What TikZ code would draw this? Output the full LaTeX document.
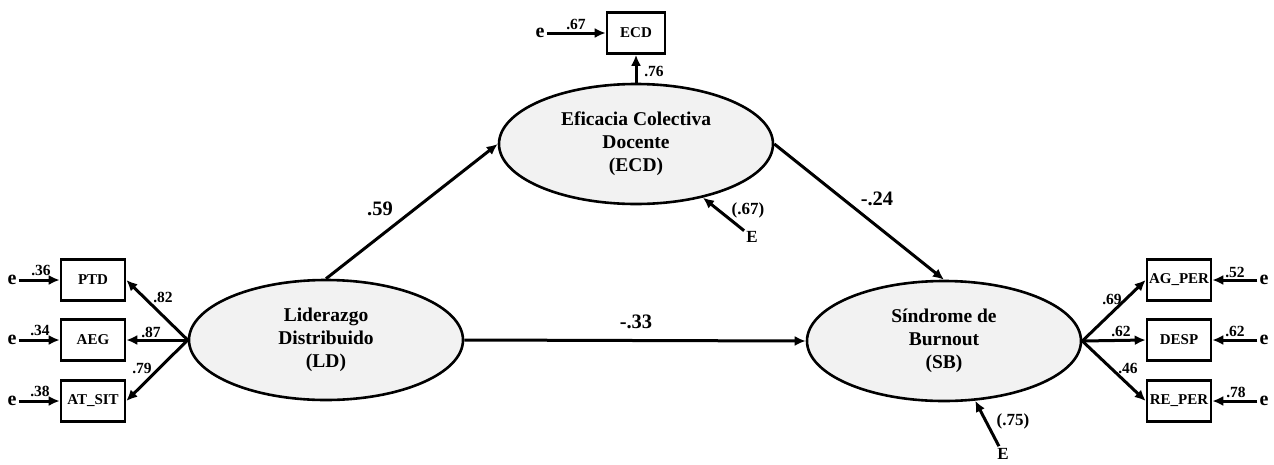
\documentclass[tikz,border=0pt]{standalone}
\usepackage{fontspec}
\setmainfont{Liberation Serif}
\usetikzlibrary{shapes.geometric,arrows.meta}
\newcommand{\fsz}[1]{\fontsize{#1}{#1}\selectfont\bfseries}
\begin{document}
\begin{tikzpicture}[x=1pt, y=-1pt,
    latent/.style={ellipse, draw, line width=2.6pt, fill=black!5, inner sep=0pt,
      minimum width=274pt, minimum height=120pt, align=center,
      font=\fontsize{19.5}{23}\selectfont\bfseries},
    obs/.style={rectangle, draw, line width=2.6pt, inner sep=0pt,
      minimum width=64pt, minimum height=41pt, font=\fsz{15}},
    arr/.style={line width=3pt, -{Latex[length=11pt,width=10pt]}},
    coef/.style={font=\fsz{15.5}},
    path/.style={font=\fsz{20.5}},
    err/.style={font=\fsz{20}, inner sep=2pt},
    dist/.style={font=\fsz{17}, inner sep=2pt}]
  \useasboundingbox (0,0) rectangle (1274,464);
  % latent variables
  \node[latent] (LD)  at (326,340) {Liderazgo\\Distribuido\\(LD)};
  \node[latent] (ECD) at (636,144) {Eficacia Colectiva\\Docente\\(ECD)};
  \node[latent] (SB)  at (944,341) {Síndrome de\\Burnout\\(SB)};
  % indicators
  \node[obs] (PTD)   at (93,280)  {PTD};
  \node[obs] (AEG)   at (93,340)  {AEG};
  \node[obs] (ATSIT) at (93,401)  {AT\_SIT};
  \node[obs, minimum width=58pt] (ECDi) at (636,33) {ECD};
  \node[obs] (AGPER) at (1179,280) {AG\_PER};
  \node[obs] (DESP)  at (1179,340) {DESP};
  \node[obs] (REPER) at (1179,401) {RE\_PER};
  % errors
  \node[err] (e1) at (12,280) {e};
  \node[err] (e2) at (12,340) {e};
  \node[err] (e3) at (12,401) {e};
  \node[err] (e4) at (540,33) {e};
  \node[err] (e5) at (1264,280) {e};
  \node[err] (e6) at (1264,340) {e};
  \node[err] (e7) at (1264,401) {e};
  \node[dist] (E1) at (752,237) {E};
  \node[dist] (E2) at (1003,454) {E};
  % structural paths
  \draw[arr] (LD.north) -- (ECD.west);
  \draw[arr] (ECD.east) -- (SB.north);
  \draw[arr] (LD.east) -- (SB.west);
  \draw[arr] (E1) -- (ECD);
  \draw[arr] (E2) -- (SB);
  % measurement paths
  \draw[arr] (LD.west) -- (PTD.east);
  \draw[arr] (LD.west) -- (AEG.east);
  \draw[arr] (LD.west) -- (ATSIT.east);
  \draw[arr] (ECD.north) -- (ECDi.south);
  \draw[arr] (SB.east) -- (AGPER.west);
  \draw[arr] (SB.east) -- (DESP.west);
  \draw[arr] (SB.east) -- (REPER.west);
  \draw[arr] (e1) -- (PTD);
  \draw[arr] (e2) -- (AEG);
  \draw[arr] (e3) -- (ATSIT);
  \draw[arr] (e4) -- (ECDi);
  \draw[arr] (e5) -- (AGPER);
  \draw[arr] (e6) -- (DESP);
  \draw[arr] (e7) -- (REPER);
  % coefficients
  \node[path] (c1) at (380,209) {.59};
  \node[path] (c2) at (877,199) {-.24};
  \node[path] (c3) at (636,322) {-.33};
  \node[dist] (r1) at (748,210) {(.67)};
  \node[dist] (r2) at (1013,421) {(.75)};
  \node[coef] (l1) at (163,297) {.82};
  \node[coef] (l2) at (151,332) {.87};
  \node[coef] (l3) at (142,368) {.79};
  \node[coef] (l4) at (41,270) {.36};
  \node[coef] (l5) at (40,330) {.34};
  \node[coef] (l6) at (40,391) {.38};
  \node[coef] (l7) at (576,24) {.67};
  \node[coef] (l8) at (654,71) {.76};
  \node[coef] (l9) at (1112,299) {.69};
  \node[coef] (l10) at (1121,331) {.62};
  \node[coef] (l11) at (1128,368) {.46};
  \node[coef] (l12) at (1235,272) {.52};
  \node[coef] (l13) at (1235,331) {.62};
  \node[coef] (l14) at (1236,392) {.78};
\end{tikzpicture}
\end{document}
